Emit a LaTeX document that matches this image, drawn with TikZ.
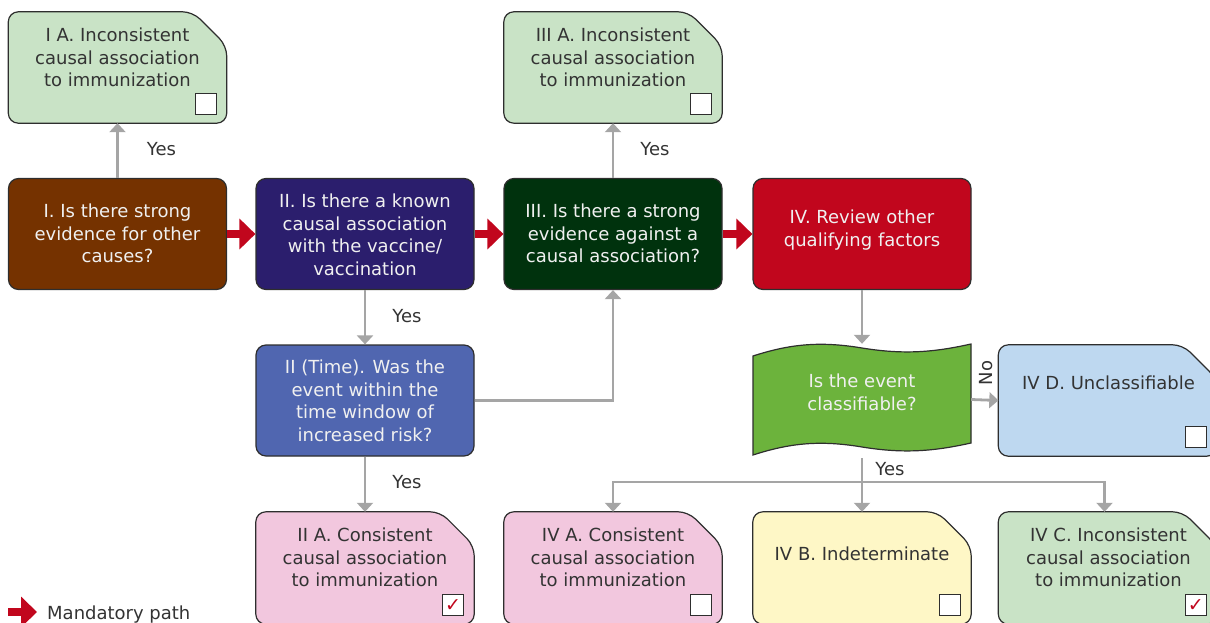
\documentclass[tikz,border=0pt]{standalone}
\usepackage{fontspec}
\setmainfont{DejaVu Sans}
\usetikzlibrary{arrows.meta,calc}
\definecolor{edge}{HTML}{2E2E2E}
\definecolor{lgreen}{HTML}{C9E3C6}
\definecolor{cbrown}{HTML}{753200}
\definecolor{cnavy}{HTML}{2B1E6D}
\definecolor{cdgreen}{HTML}{00320D}
\definecolor{cred}{HTML}{C1061D}
\definecolor{cblue}{HTML}{5066B0}
\definecolor{cgreen}{HTML}{6CB33C}
\definecolor{lblue}{HTML}{BED8F0}
\definecolor{cpink}{HTML}{F2C7DE}
\definecolor{cyellow}{HTML}{FEF7C6}
\definecolor{agray}{HTML}{A5A5A5}
\definecolor{dtext}{HTML}{333333}
\definecolor{wtext}{HTML}{F0F0F0}
\newcommand\earbox[2]{%
  \draw[fill=#2, draw=edge, line width=1.2pt, rounded corners=10pt]
    (#1.south west) -- (#1.north west) -- ($(#1.north east)+(-34,0)$)
    -- ($(#1.north east)+(0,34)$) -- (#1.south east) -- cycle;}
\begin{document}
\begin{tikzpicture}[x=1pt,y=-1pt,
  bx/.style={rectangle, inner sep=0pt, minimum width=218pt, minimum height=111pt},
  qbox/.style={bx, draw=edge, line width=1.2pt, rounded corners=10pt},
  dt/.style={text=dtext, align=center, inner sep=0pt, font=\fontsize{18}{22.5}\selectfont},
  wt/.style={dt, text=wtext},
  chk/.style={draw=edge, fill=white, line width=1pt, minimum size=21pt, inner sep=0pt, anchor=south east},
  tick/.style={text=cred, font=\fontsize{19}{19}\selectfont},
  garrow/.style={draw=agray, line width=2.8pt, -{Triangle[length=9pt,width=16pt]}},
  gline/.style={draw=agray, line width=2.8pt},
  rarrow/.style={draw=cred, line width=8pt, -{Triangle[length=16pt,width=30pt]}}]
\useasboundingbox (0,0) rectangle (1210,623);
\clip (0,0) rectangle (1210,623);

% top row
\node[bx] (ia) at (117.5,67.5) {};
\earbox{ia}{lgreen}
\node[dt, anchor=north] (iat) at (117.5,27.8) {I A. Inconsistent\\causal association\\to immunization};
\node[chk] (iac) at ($(ia.south east)+(-10,-8)$) {};

\node[bx] (iiia) at (613,67.5) {};
\earbox{iiia}{lgreen}
\node[dt, anchor=north] (iiiat) at (613,27.8) {III A. Inconsistent\\causal association\\to immunization};
\node[chk] (iiiac) at ($(iiia.south east)+(-10,-8)$) {};

% question row
\node[qbox, fill=cbrown] (q1) at (117.5,234) {};
\node[wt, anchor=north] (q1t) at (117.5,203.8) {I. Is there strong\\evidence for other\\causes?};
\node[qbox, fill=cnavy] (q2) at (365,234) {};
\node[wt, anchor=north] (q2tx) at (365,193.8) {II. Is there a known\\causal association\\with the vaccine/\\vaccination};
\node[qbox, fill=cdgreen] (q3) at (613,234) {};
\node[wt, anchor=north] (q3t) at (613,203.8) {III. Is there a strong\\evidence against a\\causal association?};
\node[qbox, fill=cred] (q4) at (862,234) {};
\node[wt, anchor=north] (q4t) at (862,209.8) {IV. Review other\\qualifying factors};

% middle row
\node[qbox, fill=cblue] (q2t) at (365,400.5) {};
\node[wt, anchor=north] (q2tt) at (365,359.8) {II (Time). Was the\\event within the\\time window of\\increased risk?};

\node[bx] (cls) at (862,399.5) {};
\draw[fill=cgreen, draw=edge, line width=1.2pt]
  (753,356) .. controls (790,344) and (820,341) .. (862,348)
  .. controls (905,355) and (935,352) .. (971,344) -- (971,443)
  .. controls (935,451) and (905,454) .. (862,447)
  .. controls (820,440) and (790,443) .. (753,455) -- cycle;
\node[wt, anchor=north] (clst) at (862,373.8) {Is the event\\classifiable?};

\node[bx] (ivd) at (1107.5,400.5) {};
\earbox{ivd}{lblue}
\node[dt, anchor=north] (ivdt) at (1108.5,375.8) {IV D. Unclassifiable};
\node[chk] (ivdc) at ($(ivd.south east)+(-10,-8)$) {};

% bottom row
\node[bx, minimum height=112pt] (iia) at (365,568) {};
\earbox{iia}{cpink}
\node[dt, anchor=north] (iiat) at (365,527.8) {II A. Consistent\\causal association\\to immunization};
\node[chk] (iiac) at ($(iia.south east)+(-10,-8)$) {};
\node[tick] (iiak) at (iiac.center) {✓};

\node[bx, minimum height=112pt] (iva) at (613,568) {};
\earbox{iva}{cpink}
\node[dt, anchor=north] (ivat) at (613,527.8) {IV A. Consistent\\causal association\\to immunization};
\node[chk] (ivac) at ($(iva.south east)+(-10,-8)$) {};

\node[bx, minimum height=112pt] (ivb) at (862,568) {};
\earbox{ivb}{cyellow}
\node[dt, anchor=north] (ivbt) at (862,546.8) {IV B. Indeterminate};
\node[chk] (ivbc) at ($(ivb.south east)+(-10,-8)$) {};

\node[bx, minimum height=112pt] (ivc) at (1107.5,568) {};
\earbox{ivc}{lgreen}
\node[dt, anchor=north] (ivct) at (1108.5,527.8) {IV C. Inconsistent\\causal association\\to immunization};
\node[chk] (ivcc) at ($(ivc.south east)+(-10,-8)$) {};
\node[tick] (ivck) at (ivcc.center) {✓};

% gray connectors
\draw[garrow] (q1.north) -- (ia.south);
\draw[garrow] (q3.north) -- (iiia.south);
\draw[garrow] (q2.south) -- (q2t.north);
\draw[garrow] (q2t.south) -- (iia.north);
\draw[garrow] (q2t.east) -| (q3.south);
\draw[garrow] (q4.south) -- (cls.north);
\draw[garrow] (cls.east) -- (ivd.west);
\coordinate (clsb) at ($(cls.south)+(0,3)$);
\coordinate (jn) at (862,482);
\draw[gline] (clsb) -- (jn);
\draw[garrow] (jn) -| (iva.north);
\draw[garrow] (jn) -| ($(ivc.north)+(-3,0)$);
\draw[garrow] (jn) -- (ivb.north);

% labels
\node[dt, anchor=base] (y1) at (161.5,155.5) {Yes};
\node[dt, anchor=base] (y2) at (655,155.5) {Yes};
\node[dt, anchor=base] (y3) at (407,322.5) {Yes};
\node[dt, anchor=base] (y4) at (407,488.5) {Yes};
\node[dt, anchor=base] (y5) at (890,475.5) {Yes};
\node[dt, rotate=90] (no) at (986,373) {No};

% mandatory path
\draw[rarrow] (q1.east) -- (q2.west);
\draw[rarrow] (q2.east) -- (q3.west);
\draw[rarrow] (q3.east) -- (q4.west);
\coordinate (lg1) at (8,612);
\coordinate (lg2) at (37,612);
\draw[rarrow] (lg1) -- (lg2);
\node[dt, anchor=base west] (lgt) at (47,619.5) {Mandatory path};
\end{tikzpicture}
\end{document}
